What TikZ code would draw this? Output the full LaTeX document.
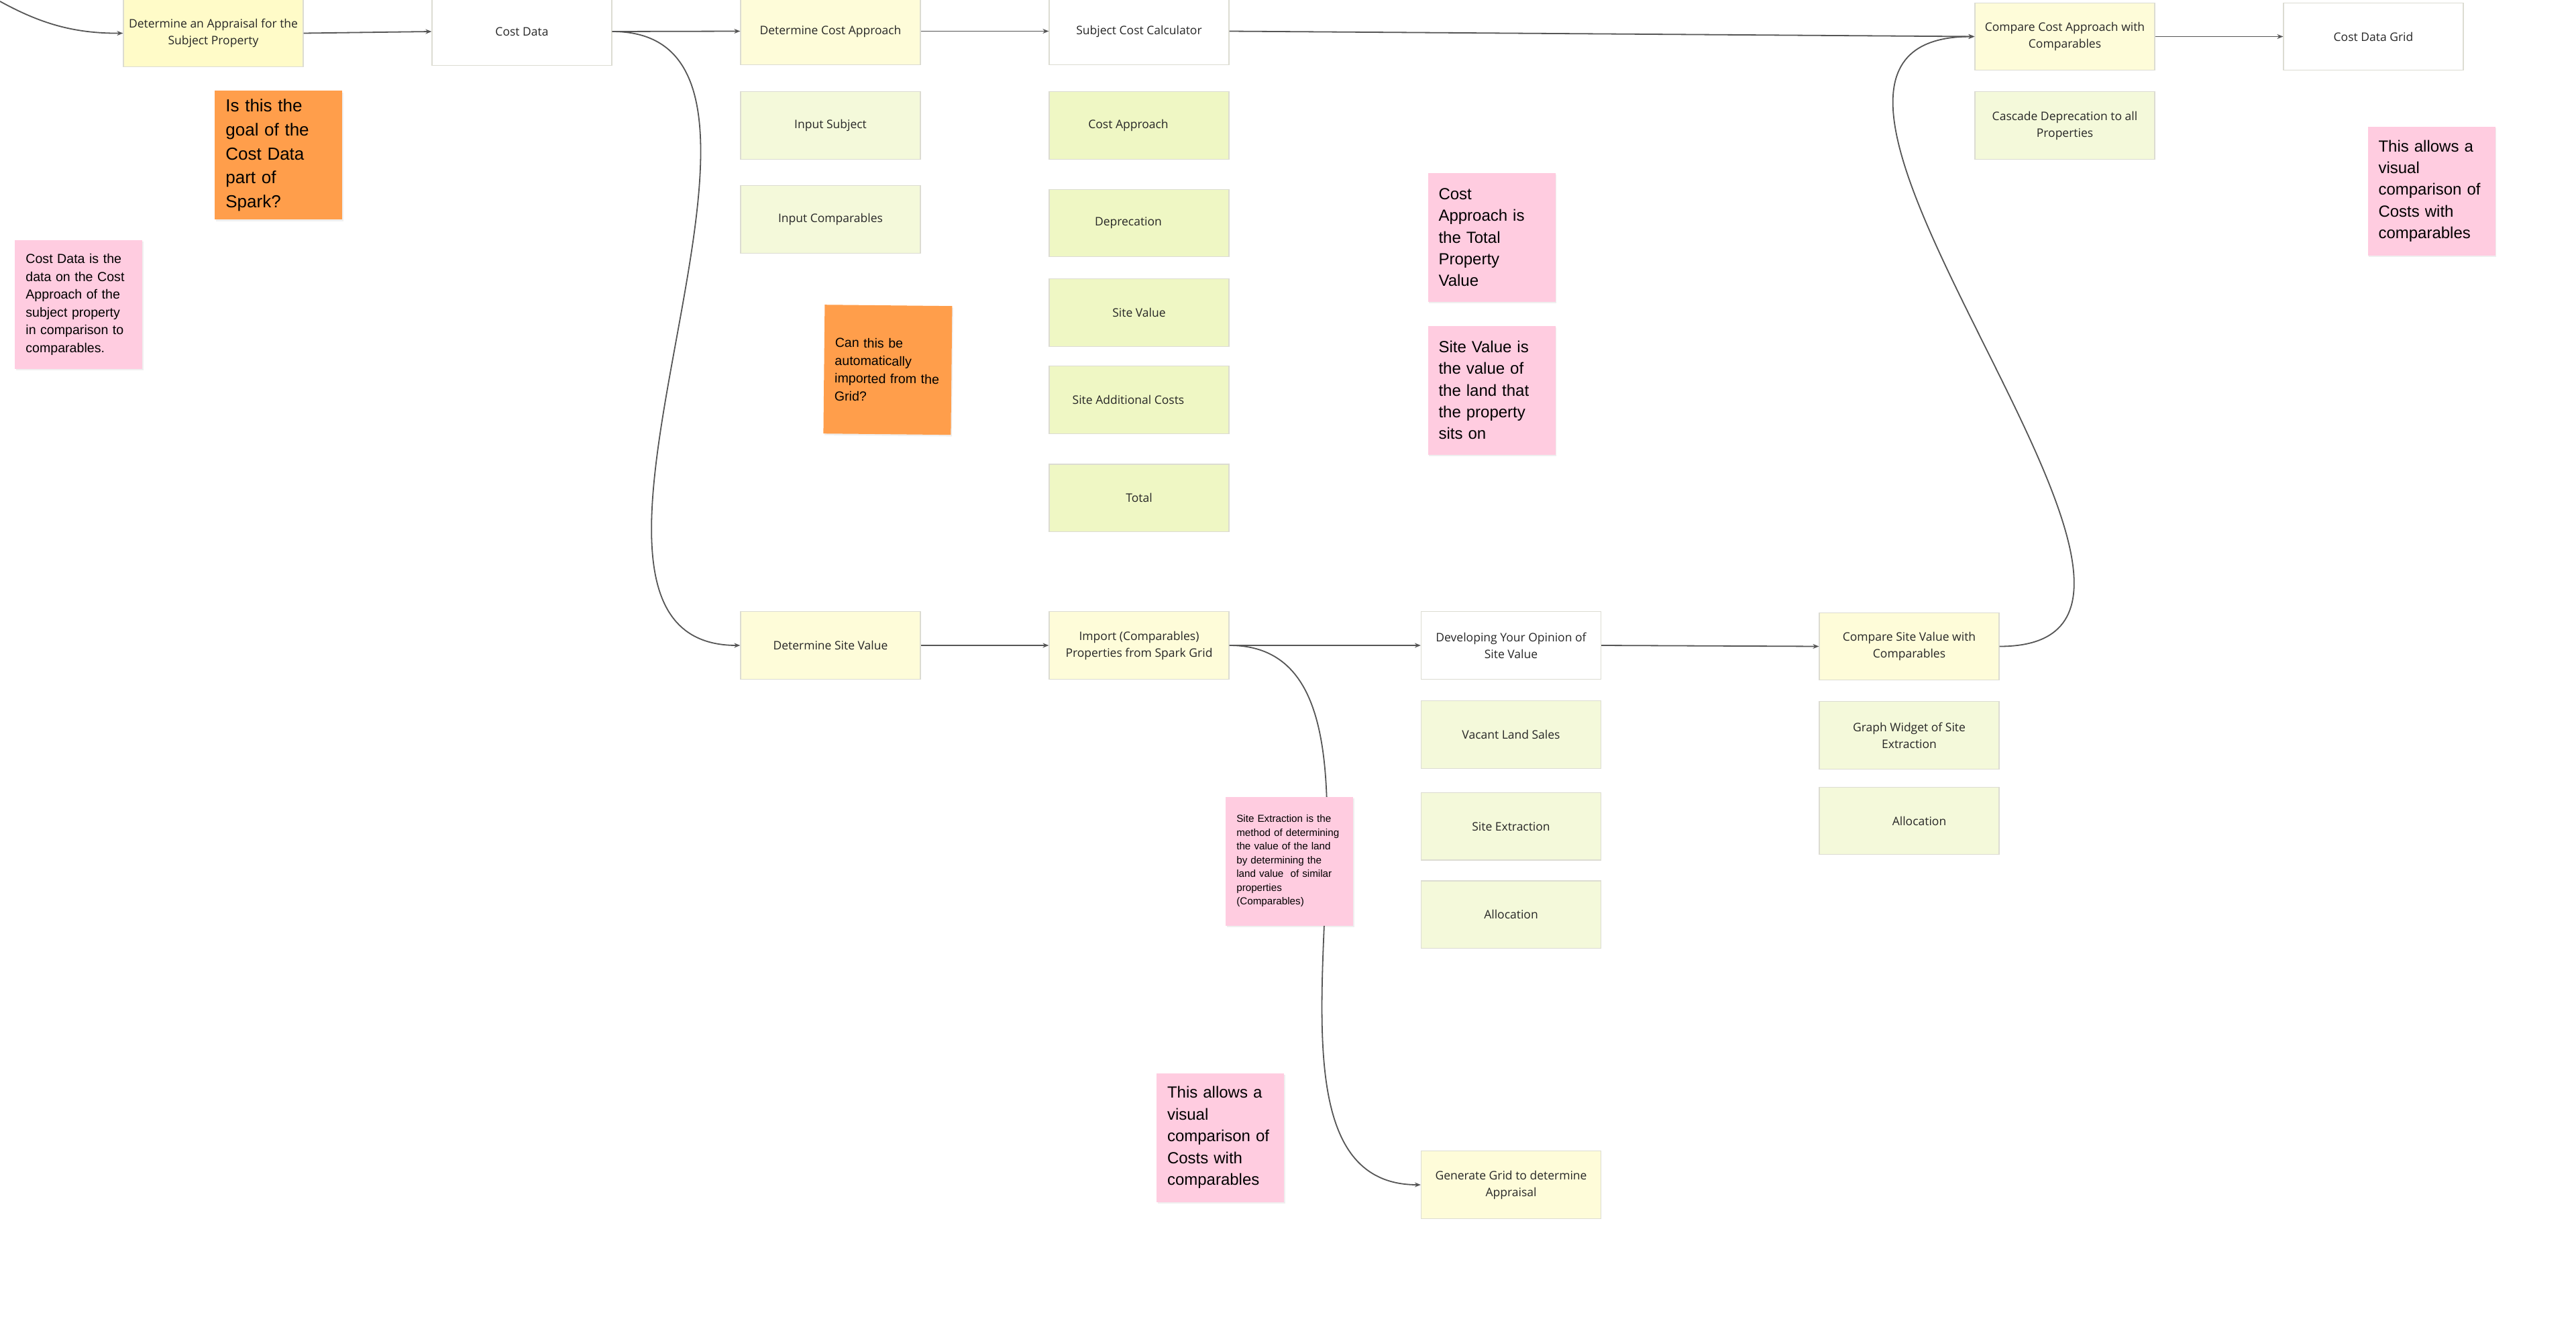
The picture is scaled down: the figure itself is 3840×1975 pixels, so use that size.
\documentclass[tikz,border=0pt]{standalone}
\usepackage{fontspec}
\setmainfont{Open Sans}
\newfontfamily\notefont{Liberation Sans}
\usetikzlibrary{arrows.meta,shadows}
\definecolor{Y0}{HTML}{FFFBC8}
\definecolor{Y1}{HTML}{FEFCD9}
\definecolor{G0}{HTML}{F4F9DA}
\definecolor{G1}{HTML}{EFF7C4}
\definecolor{P0}{HTML}{FFCCE0}
\definecolor{O0}{HTML}{FF9E4B}
\definecolor{rim}{HTML}{DCDCD2}
\definecolor{wire}{HTML}{555555}
\newcommand{\notehuge}{\notefont\fontsize{13}{17.8}\selectfont}
\newcommand{\notebig}{\notefont\fontsize{12}{16.2}\selectfont}
\newcommand{\notemid}{\notefont\fontsize{9.8}{13.25}\selectfont}
\newcommand{\notesmall}{\notefont\fontsize{7.6}{10.25}\selectfont}
\tikzset{
  box/.style={draw=rim, line width=0.6pt, fill=#1, minimum width=134pt, minimum height=50.25pt,
    inner sep=2pt, align=center, text=black!85, font=\fontsize{8.75}{12.5}\selectfont},
  box/.default=Y1,
  note/.style={fill=#1, minimum width=95pt, minimum height=96pt, text width=79pt, inner xsep=8pt,
    align=left, text=black, drop shadow={opacity=0.12, shadow xshift=0.8pt, shadow yshift=-1.2pt}},
  flow/.style={draw=wire, line width=0.9pt, -{Stealth[length=4.5pt,width=3.5pt]}},
}
\begin{document}
\begin{tikzpicture}[x=0.5pt,y=-0.5pt]
\useasboundingbox (0,0) rectangle (3840,1975);
\fill[white] (0,0) rectangle (3840,1975);

\node[box=Y0] (appraisal) at (318,49.5) {Determine an Appraisal for the\\Subject Property};
\node[box=white] (costdata) at (778,47) {Cost Data};
\node[box] (costapp) at (1238,46.5) {Determine Cost Approach};
\node[box=white] (calc) at (1698,46.5) {Subject Cost Calculator};
\node[box] (cmpcost) at (3078,54.5) {Compare Cost Approach with\\Comparables};
\node[box=white] (grid) at (3538,54.5) {Cost Data Grid};
\node[box=G0] (cascade) at (3078,187) {Cascade Deprecation to all\\Properties};

\node[box=G0] (insubj) at (1238,187) {Input Subject};
\node[box=G0] (incomp) at (1238,327) {Input Comparables};

\node[box=G1] (capp) at (1698,187) {Cost Approach\hspace*{16pt}};
\node[box=G1] (deprec) at (1698,332.5) {Deprecation\hspace*{16pt}};
\node[box=G1] (siteval) at (1698,466) {Site Value};
\node[box=G1] (siteadd) at (1698,596) {Site Additional Costs\hspace*{16pt}};
\node[box=G1] (total) at (1698,742.3) {Total};

\node[box] (detsite) at (1238,962) {Determine Site Value};
\node[box] (import) at (1698,962) {Import (Comparables)\\Properties from Spark Grid};
\node[box=white] (opinion) at (2252.5,962) {Developing Your Opinion of\\Site Value};
\node[box=G0] (vacant) at (2252.5,1095) {Vacant Land Sales};
\node[box=G0] (extract) at (2252.5,1231.7) {Site Extraction};
\node[box=G0] (alloc) at (2252.5,1363.2) {Allocation};
\node[box] (generate) at (2252.5,1766) {Generate Grid to determine\\Appraisal};
\node[box] (cmpsite) at (2846,963.5) {Compare Site Value with\\Comparables};
\node[box=G0] (widget) at (2846,1096) {Graph Widget of Site\\Extraction};
\node[box=G0] (alloc2) at (2846,1223.5) {\hspace*{15pt}Allocation};

\coordinate (entry) at (0,2);
\draw[flow] (entry) .. controls (60,35) and (110,50) .. (appraisal.west);
\draw[flow] (appraisal.east) -- (costdata.west);
\draw[flow] (costdata.east) -- (costapp.west);
\draw[flow] (costdata.east) .. controls +(357,0) and +(-354,0) .. (detsite.west);
\draw[flow] (costapp.east) -- (calc.west);
\draw[flow] (calc.east) -- (cmpcost.west);
\draw[flow] (cmpcost.east) -- (grid.west);
\draw[flow] (detsite.east) -- (import.west);
\draw[flow] (import.east) -- (opinion.west);
\draw[flow] (import.east) .. controls +(317,0) and +(-317,0) .. (generate.west);
\draw[flow] (opinion.east) -- (cmpsite.west);
\draw[flow] (cmpsite.east) .. controls +(405,0) and +(-421,0) .. (cmpcost.west);

\node[note=O0, font=\notehuge] (goal) at (415.4,231.3) {Is this the\\goal of the\\Cost Data\\part of\\Spark?};
\node[note=P0, font=\notemid] (costnote) at (117.4,453.7) {Cost Data is the\\data on the Cost\\Approach of the\\subject property\\in comparison to\\comparables.};
\node[note=O0, font=\notemid, rotate=-0.6] (gridq) at (1323.4,551.2) {Can this be\\automatically\\imported from the\\Grid?};
\node[note=P0, font=\notebig] (capnote) at (2223.5,353.8) {Cost\\Approach is\\the Total\\Property\\Value};
\node[note=P0, font=\notebig] (svnote) at (2223.5,581.5) {Site Value is\\the value of\\the land that\\the property\\sits on};
\node[note=P0, font=\notebig] (visualR) at (3624.5,284.6) {This allows a\\visual\\comparison of\\Costs with\\comparables};
\node[note=P0, font=\notesmall] (extnote) at (1922.3,1283.5) {Site Extraction is the\\method of determining\\the value of the land\\by determining the\\land value\ \ of similar\\properties\\(Comparables)};
\node[note=P0, font=\notebig] (visualB) at (1819,1695.5) {This allows a\\visual\\comparison of\\Costs with\\comparables};
\end{tikzpicture}
\end{document}
